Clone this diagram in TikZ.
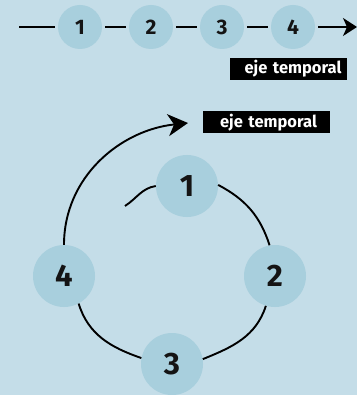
\documentclass[tikz,border=0pt]{standalone}
\usepackage{fontspec}
\setmainfont{Fira Sans}
\usetikzlibrary{arrows.meta}
\definecolor{bgblue}{HTML}{C4DDE8}
\definecolor{dotblue}{HTML}{A8CFDD}
\newcommand\smallnum{\fontsize{21pt}{21pt}\selectfont\bfseries}
\newcommand\bignum{\fontsize{31pt}{31pt}\selectfont\bfseries}
\newcommand\tagfont{\fontsize{16.5pt}{18pt}\selectfont\bfseries}
\tikzset{
  smalldot/.style={circle,fill=dotblue,minimum size=44pt,inner sep=0pt,font=\smallnum,text=black!92},
  bigdot/.style={circle,fill=dotblue,minimum size=62pt,inner sep=0pt,font=\bignum,text=black!92},
  taglabel/.style={fill=black,text=white,inner xsep=0pt,inner ysep=0pt,align=center,minimum height=22pt,font=\tagfont},
  axisline/.style={line width=1.7pt,shorten <=3pt,shorten >=3pt},
  ringline/.style={line width=1.9pt},
}
\begin{document}
\begin{tikzpicture}[x=1pt,y=-1pt]
  \fill[bgblue] (0,0) rectangle (357,395);
  \useasboundingbox (0,0) rectangle (357,395);

  % straight time axis
  \coordinate (start) at (16,27);
  \coordinate (tip) at (357,27);
  \node[smalldot] (a1) at (80,27) {1};
  \node[smalldot] (a2) at (151,27) {2};
  \node[smalldot] (a3) at (222,27) {3};
  \node[smalldot] (a4) at (293,27) {4};
  \draw[axisline] (start) -- (a1);
  \draw[axisline] (a1) -- (a2);
  \draw[axisline] (a2) -- (a3);
  \draw[axisline] (a3) -- (a4);
  \draw[axisline,shorten >=0pt,-{Stealth[length=14pt,width=18pt,inset=4pt]}] (a4) -- (tip);
  \node[taglabel,text width=117pt] (lab1) at (288.5,69) {\hspace*{9pt}eje temporal};

  % circular time axis
  \node[bigdot] (c1) at (187,186) {1};
  \node[bigdot] (c2) at (275,276) {2};
  \node[bigdot] (c3) at (172,364) {3};
  \node[bigdot] (c4) at (64,276) {4};
  \coordinate (loopend) at (125,206);
  \coordinate (looptip) at (188,123);
  \draw[ringline] (c1.west) to[out=189,in=33] (loopend);
  \draw[ringline] (c1.2) to[out=-28,in=108] (c2.100);
  \draw[ringline] (c2.-107) to[out=-108,in=22] (c3.9);
  \draw[ringline] (c3.169) to[out=161,in=-73] (c4.-62);
  \draw[ringline,-{Stealth[length=20pt,width=22pt,inset=6pt]}] (c4.north) to[out=90,in=186] (looptip);
  \node[taglabel,text width=127pt] (lab2) at (266.5,122.5) {\hspace*{4pt}eje temporal};
\end{tikzpicture}
\end{document}
